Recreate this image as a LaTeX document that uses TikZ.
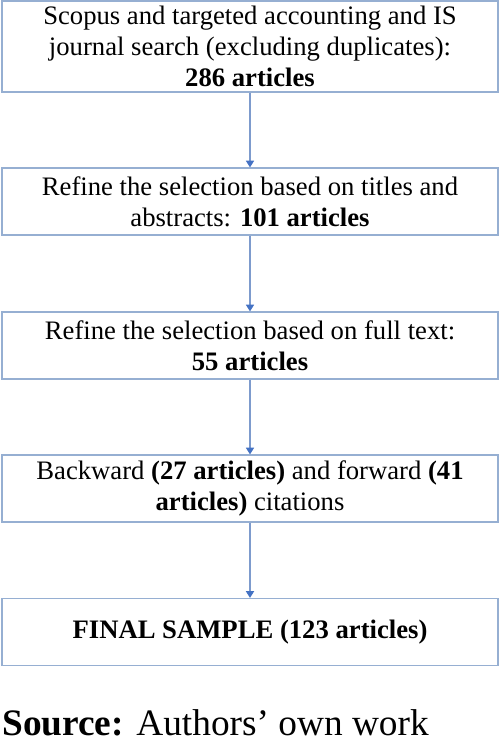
\documentclass[tikz,border=0pt]{standalone}
\usepackage{fontspec}
\setmainfont{Liberation Serif}
\usetikzlibrary{arrows.meta}
\definecolor{boxline}{RGB}{150,175,210}
\definecolor{arrline}{RGB}{125,155,205}
\definecolor{arrtip}{RGB}{68,114,196}
\tikzset{
  stagebox/.style={draw=boxline,line width=0.9pt,minimum width=372pt,minimum height=50.25pt,
    align=center,inner sep=2pt,font=\fontsize{20}{23.25}\selectfont},
  flow/.style={draw=arrline,line width=1pt,-{Triangle[width=6pt,length=5pt,color=arrtip]}}
}
\begin{document}
\begin{tikzpicture}[x=0.75pt,y=-0.75pt]
    \useasboundingbox (0,0) rectangle (500,743);
    \node[stagebox,minimum height=68.25pt] (search) at (250,46.5)
      {Scopus and targeted accounting and IS\\journal search (excluding duplicates):\\\textbf{286 articles}};
    \node[stagebox] (titles) at (250,201.5)
      {Refine the selection based on titles and\\abstracts: \textbf{101 articles}};
    \node[stagebox] (fulltext) at (250,345.5)
      {Refine the selection based on full text:\\\textbf{55 articles}};
    \node[stagebox] (citations) at (250,488.5)
      {Backward \textbf{(27 articles)} and forward \textbf{(41}\\\textbf{articles)} citations};
    \node[stagebox] (final) at (250,632)
      {\textbf{FINAL SAMPLE (123 articles)}};
    \draw[flow] (search) -- (titles);
    \draw[flow] (titles) -- (fulltext);
    \draw[flow] (fulltext) -- (citations);
    \draw[flow] (citations) -- (final);
    \node[anchor=base west,inner sep=0pt,font=\fontsize{28}{33}\selectfont] (source) at (2,735)
      {\textbf{Source:} Authors’ own work};
\end{tikzpicture}
\end{document}
